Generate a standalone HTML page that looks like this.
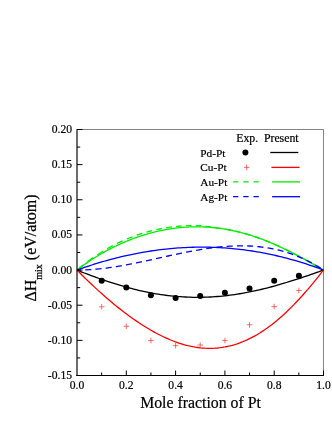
<!DOCTYPE html>
<html><head><meta charset="utf-8"><title>Chart</title>
<style>html,body{margin:0;padding:0;background:#fff;}body{width:332px;height:430px;overflow:hidden;position:relative;font-family:"Liberation Serif",serif;}</style>
</head><body>
<svg width="332" height="430" viewBox="0 0 332 430" style="position:absolute;left:0;top:0;will-change:transform">
<rect width="332" height="430" fill="#fff"/>
<g fill="none" stroke-width="1.3" stroke-linejoin="round">
<path d="M77.66,269.51 L78.46,268.84 L79.26,268.18 L80.06,267.52 L80.86,266.87 L81.66,266.22 L82.46,265.58 L83.26,264.95M87.50,261.69 L88.30,261.10 L89.10,260.51 L89.90,259.92 L90.70,259.34 L91.50,258.77 L92.30,258.20 L93.10,257.64M97.34,254.76 L98.14,254.23 L98.94,253.71 L99.74,253.20 L100.54,252.68 L101.34,252.18 L102.14,251.68 L102.94,251.20M107.18,248.70 L107.98,248.25 L108.78,247.80 L109.58,247.36 L110.38,246.92 L111.18,246.48 L111.98,246.06 L112.78,245.64M117.02,243.48 L117.82,243.09 L118.62,242.71 L119.42,242.33 L120.22,241.95 L121.02,241.58 L121.82,241.21 L122.62,240.85M126.86,239.00 L127.66,238.67 L128.46,238.34 L129.26,238.02 L130.06,237.70 L130.86,237.39 L131.66,237.08 L132.46,236.77M136.70,235.23 L137.50,234.95 L138.30,234.68 L139.10,234.41 L139.90,234.14 L140.70,233.88 L141.50,233.63 L142.30,233.38M146.54,232.12 L147.34,231.89 L148.14,231.67 L148.94,231.46 L149.74,231.25 L150.54,231.04 L151.34,230.84 L152.14,230.64M156.38,229.65 L157.18,229.48 L157.98,229.31 L158.78,229.15 L159.58,228.99 L160.38,228.83 L161.18,228.68 L161.98,228.53M166.22,227.82 L167.02,227.69 L167.82,227.57 L168.62,227.45 L169.42,227.33 L170.22,227.22 L171.02,227.10 L171.82,226.99M176.06,226.48 L176.86,226.39 L177.66,226.31 L178.46,226.23 L179.26,226.16 L180.06,226.09 L180.86,226.03 L181.66,225.96M185.90,225.70 L186.70,225.67 L187.50,225.63 L188.30,225.60 L189.10,225.58 L189.90,225.56 L190.70,225.54 L191.50,225.53M195.74,225.52 L196.54,225.53 L197.34,225.55 L198.14,225.57 L198.94,225.59 L199.74,225.64 L200.54,225.72 L201.34,225.80M205.58,226.30 L206.38,226.41 L207.18,226.52 L207.98,226.63 L208.78,226.75 L209.58,226.87 L210.38,226.99 L211.18,227.11M215.42,227.81 L216.22,227.90 L217.02,228.00 L217.82,228.09 L218.62,228.19 L219.42,228.30 L220.22,228.41 L221.02,228.52M225.26,229.17 L226.06,229.31 L226.86,229.45 L227.66,229.59 L228.46,229.74 L229.26,229.89 L230.06,230.05 L230.86,230.20M235.10,231.11 L235.90,231.29 L236.70,231.48 L237.50,231.67 L238.30,231.86 L239.10,232.06 L239.90,232.26 L240.70,232.46M244.94,233.61 L245.74,233.84 L246.54,234.07 L247.34,234.30 L248.14,234.54 L248.94,234.78 L249.74,235.03 L250.54,235.28M254.78,236.66 L255.58,236.93 L256.38,237.21 L257.18,237.49 L257.98,237.77 L258.78,238.06 L259.58,238.35 L260.38,238.64M264.62,240.25 L265.42,240.56 L266.22,240.88 L267.02,241.20 L267.82,241.52 L268.62,241.85 L269.42,242.18 L270.22,242.51M274.46,244.33 L275.26,244.68 L276.06,245.03 L276.86,245.39 L277.66,245.75 L278.46,246.12 L279.26,246.48 L280.06,246.85M284.30,248.86 L285.10,249.25 L285.90,249.63 L286.70,250.03 L287.50,250.42 L288.30,250.82 L289.10,251.22 L289.90,251.62M294.14,253.79 L294.94,254.20 L295.74,254.62 L296.54,255.04 L297.34,255.46 L298.14,255.89 L298.94,256.32 L299.74,256.74M303.98,259.04 L304.78,259.48 L305.58,259.92 L306.38,260.36 L307.18,260.81 L307.98,261.25 L308.78,261.70 L309.58,262.15M313.82,264.54 L314.62,264.99 L315.42,265.44 L316.22,265.90 L317.02,266.36 L317.82,266.81 L318.62,267.27 L319.42,267.73" stroke="#00ee00"/>
<path d="M77.00,270.07 L79.47,268.19 L81.93,266.36 L84.39,264.58 L86.86,262.85 L89.33,261.18 L91.79,259.55 L94.25,257.97 L96.72,256.43 L99.19,254.95 L101.65,253.50 L104.11,252.10 L106.58,250.75 L109.05,249.43 L111.51,248.16 L113.97,246.93 L116.44,245.73 L118.91,244.58 L121.37,243.47 L123.84,242.39 L126.30,241.35 L128.76,240.35 L131.23,239.39 L133.69,238.46 L136.16,237.57 L138.62,236.72 L141.09,235.90 L143.56,235.12 L146.02,234.37 L148.49,233.66 L150.95,232.99 L153.42,232.35 L155.88,231.74 L158.34,231.17 L160.81,230.64 L163.28,230.14 L165.74,229.67 L168.20,229.24 L170.67,228.84 L173.13,228.48 L175.60,228.16 L178.06,227.87 L180.53,227.61 L183.00,227.39 L185.46,227.21 L187.93,227.06 L190.39,226.94 L192.86,226.87 L195.32,226.82 L197.78,226.82 L200.25,226.84 L202.72,226.91 L205.18,227.01 L207.65,227.15 L210.11,227.32 L212.58,227.53 L215.04,227.77 L217.51,228.05 L219.97,228.37 L222.44,228.72 L224.90,229.11 L227.37,229.54 L229.83,230.00 L232.29,230.50 L234.76,231.03 L237.22,231.60 L239.69,232.21 L242.16,232.84 L244.62,233.52 L247.09,234.23 L249.55,234.97 L252.01,235.75 L254.48,236.56 L256.94,237.41 L259.41,238.28 L261.88,239.19 L264.34,240.14 L266.81,241.11 L269.27,242.11 L271.74,243.15 L274.20,244.21 L276.67,245.30 L279.13,246.42 L281.60,247.57 L284.06,248.74 L286.52,249.94 L288.99,251.16 L291.46,252.41 L293.92,253.67 L296.38,254.96 L298.85,256.27 L301.31,257.59 L303.78,258.93 L306.25,260.29 L308.71,261.66 L311.18,263.04 L313.64,264.43 L316.11,265.83 L318.57,267.24 L321.03,268.65 L323.50,270.07" stroke="#00ee00"/>
<path d="M77.00,270.07 L79.47,270.06 L81.93,270.02 L84.39,269.94 L86.86,269.84 L89.33,269.70 L91.79,269.54 L94.25,269.35 L96.72,269.14 L99.19,268.90 L101.65,268.63 L104.11,268.35 L106.58,268.04 L109.05,267.71 L111.51,267.36 L113.97,266.99 L116.44,266.60 L118.91,266.19 L121.37,265.77 L123.84,265.34 L126.30,264.89 L128.76,264.42 L131.23,263.95 L133.69,263.46 L136.16,262.96 L138.62,262.45 L141.09,261.94 L143.56,261.41 L146.02,260.89 L148.49,260.35 L150.95,259.81 L153.42,259.27 L155.88,258.72 L158.34,258.18 L160.81,257.63 L163.28,257.09 L165.74,256.54 L168.20,256.00 L170.67,255.46 L173.13,254.93 L175.60,254.40 L178.06,253.88 L180.53,253.36 L183.00,252.86 L185.46,252.36 L187.93,251.87 L190.39,251.40 L192.86,250.94 L195.32,250.49 L197.78,250.05 L200.25,249.63 L202.72,249.23 L205.18,248.85 L207.65,248.48 L210.11,248.13 L212.58,247.80 L215.04,247.50 L217.51,247.21 L219.97,246.95 L222.44,246.72 L224.90,246.50 L227.37,246.32 L229.83,246.16 L232.29,246.03 L234.76,245.93 L237.22,245.86 L239.69,245.82 L242.16,245.81 L244.62,245.84 L247.09,245.90 L249.55,246.00 L252.01,246.13 L254.48,246.30 L256.94,246.50 L259.41,246.75 L261.88,247.03 L264.34,247.36 L266.81,247.73 L269.27,248.14 L271.74,248.60 L274.20,249.10 L276.67,249.64 L279.13,250.24 L281.60,250.88 L284.06,251.57 L286.52,252.31 L288.99,253.10 L291.46,253.94 L293.92,254.84 L296.38,255.79 L298.85,256.79 L301.31,257.85 L303.78,258.97 L306.25,260.14 L308.71,261.38 L311.18,262.67 L313.64,264.03 L316.11,265.44 L318.57,266.92 L321.03,268.46 L323.50,270.07" stroke="#0000ff" stroke-dasharray="6.1 4.15" stroke-dashoffset="2"/>
<path d="M77.00,270.07 L79.47,269.18 L81.93,268.31 L84.39,267.46 L86.86,266.62 L89.33,265.80 L91.79,265.00 L94.25,264.22 L96.72,263.45 L99.19,262.70 L101.65,261.97 L104.11,261.25 L106.58,260.55 L109.05,259.87 L111.51,259.21 L113.97,258.56 L116.44,257.94 L118.91,257.32 L121.37,256.73 L123.84,256.15 L126.30,255.60 L128.76,255.06 L131.23,254.53 L133.69,254.03 L136.16,253.54 L138.62,253.07 L141.09,252.62 L143.56,252.18 L146.02,251.77 L148.49,251.37 L150.95,250.99 L153.42,250.62 L155.88,250.28 L158.34,249.95 L160.81,249.64 L163.28,249.35 L165.74,249.07 L168.20,248.82 L170.67,248.58 L173.13,248.36 L175.60,248.16 L178.06,247.97 L180.53,247.81 L183.00,247.66 L185.46,247.53 L187.93,247.42 L190.39,247.33 L192.86,247.25 L195.32,247.20 L197.78,247.16 L200.25,247.14 L202.72,247.14 L205.18,247.15 L207.65,247.19 L210.11,247.24 L212.58,247.32 L215.04,247.41 L217.51,247.52 L219.97,247.64 L222.44,247.79 L224.90,247.96 L227.37,248.14 L229.83,248.34 L232.29,248.56 L234.76,248.80 L237.22,249.06 L239.69,249.34 L242.16,249.63 L244.62,249.95 L247.09,250.28 L249.55,250.63 L252.01,251.00 L254.48,251.39 L256.94,251.80 L259.41,252.23 L261.88,252.67 L264.34,253.14 L266.81,253.62 L269.27,254.13 L271.74,254.65 L274.20,255.19 L276.67,255.75 L279.13,256.33 L281.60,256.93 L284.06,257.55 L286.52,258.19 L288.99,258.84 L291.46,259.52 L293.92,260.21 L296.38,260.93 L298.85,261.66 L301.31,262.42 L303.78,263.19 L306.25,263.98 L308.71,264.79 L311.18,265.62 L313.64,266.47 L316.11,267.34 L318.57,268.23 L321.03,269.14 L323.50,270.07" stroke="#0000ff"/>
<path d="M77.00,270.07 L79.47,271.05 L81.93,272.03 L84.39,272.99 L86.86,273.94 L89.33,274.88 L91.79,275.80 L94.25,276.72 L96.72,277.62 L99.19,278.50 L101.65,279.37 L104.11,280.22 L106.58,281.06 L109.05,281.88 L111.51,282.69 L113.97,283.47 L116.44,284.24 L118.91,284.99 L121.37,285.72 L123.84,286.44 L126.30,287.13 L128.76,287.80 L131.23,288.45 L133.69,289.08 L136.16,289.69 L138.62,290.28 L141.09,290.85 L143.56,291.39 L146.02,291.91 L148.49,292.41 L150.95,292.88 L153.42,293.34 L155.88,293.77 L158.34,294.17 L160.81,294.55 L163.28,294.91 L165.74,295.24 L168.20,295.55 L170.67,295.84 L173.13,296.09 L175.60,296.33 L178.06,296.54 L180.53,296.72 L183.00,296.89 L185.46,297.02 L187.93,297.13 L190.39,297.22 L192.86,297.28 L195.32,297.31 L197.78,297.32 L200.25,297.31 L202.72,297.27 L205.18,297.20 L207.65,297.11 L210.11,297.00 L212.58,296.86 L215.04,296.70 L217.51,296.51 L219.97,296.30 L222.44,296.06 L224.90,295.80 L227.37,295.52 L229.83,295.22 L232.29,294.89 L234.76,294.54 L237.22,294.16 L239.69,293.76 L242.16,293.35 L244.62,292.91 L247.09,292.45 L249.55,291.96 L252.01,291.46 L254.48,290.94 L256.94,290.39 L259.41,289.83 L261.88,289.25 L264.34,288.65 L266.81,288.03 L269.27,287.40 L271.74,286.75 L274.20,286.08 L276.67,285.39 L279.13,284.69 L281.60,283.97 L284.06,283.24 L286.52,282.50 L288.99,281.74 L291.46,280.97 L293.92,280.18 L296.38,279.39 L298.85,278.58 L301.31,277.76 L303.78,276.94 L306.25,276.10 L308.71,275.26 L311.18,274.41 L313.64,273.55 L316.11,272.69 L318.57,271.82 L321.03,270.95 L323.50,270.07" stroke="#000"/>
<path d="M77.00,270.07 L79.47,272.56 L81.93,275.02 L84.39,277.45 L86.86,279.85 L89.33,282.22 L91.79,284.55 L94.25,286.86 L96.72,289.13 L99.19,291.37 L101.65,293.58 L104.11,295.76 L106.58,297.90 L109.05,300.02 L111.51,302.10 L113.97,304.14 L116.44,306.15 L118.91,308.12 L121.37,310.06 L123.84,311.97 L126.30,313.83 L128.76,315.66 L131.23,317.44 L133.69,319.19 L136.16,320.90 L138.62,322.57 L141.09,324.19 L143.56,325.77 L146.02,327.30 L148.49,328.79 L150.95,330.24 L153.42,331.64 L155.88,332.98 L158.34,334.28 L160.81,335.53 L163.28,336.73 L165.74,337.87 L168.20,338.96 L170.67,340.00 L173.13,340.98 L175.60,341.91 L178.06,342.77 L180.53,343.58 L183.00,344.33 L185.46,345.02 L187.93,345.64 L190.39,346.20 L192.86,346.70 L195.32,347.14 L197.78,347.50 L200.25,347.81 L202.72,348.04 L205.18,348.21 L207.65,348.30 L210.11,348.33 L212.58,348.28 L215.04,348.17 L217.51,347.98 L219.97,347.72 L222.44,347.38 L224.90,346.97 L227.37,346.49 L229.83,345.93 L232.29,345.29 L234.76,344.58 L237.22,343.79 L239.69,342.93 L242.16,341.98 L244.62,340.97 L247.09,339.87 L249.55,338.69 L252.01,337.44 L254.48,336.11 L256.94,334.71 L259.41,333.22 L261.88,331.66 L264.34,330.02 L266.81,328.31 L269.27,326.52 L271.74,324.66 L274.20,322.72 L276.67,320.71 L279.13,318.62 L281.60,316.46 L284.06,314.23 L286.52,311.94 L288.99,309.57 L291.46,307.13 L293.92,304.63 L296.38,302.06 L298.85,299.44 L301.31,296.74 L303.78,293.99 L306.25,291.18 L308.71,288.32 L311.18,285.40 L313.64,282.43 L316.11,279.41 L318.57,276.34 L321.03,273.22 L323.50,270.07" stroke="#ff0000"/>
</g>
<circle cx="101.7" cy="280.7" r="3" fill="#000"/>
<circle cx="126.3" cy="287.5" r="3" fill="#000"/>
<circle cx="150.9" cy="295.2" r="3" fill="#000"/>
<circle cx="175.6" cy="297.9" r="3" fill="#000"/>
<circle cx="200.2" cy="296.0" r="3" fill="#000"/>
<circle cx="224.9" cy="292.7" r="3" fill="#000"/>
<circle cx="249.5" cy="288.6" r="3" fill="#000"/>
<circle cx="274.2" cy="280.7" r="3" fill="#000"/>
<circle cx="298.9" cy="275.8" r="3" fill="#000"/>
<path d="M98.9,306.8h5.6M101.7,304.0v5.6M123.5,326.3h5.6M126.3,323.5v5.6M148.1,340.6h5.6M150.9,337.8v5.6M172.8,345.7h5.6M175.6,342.9v5.6M197.4,345.0h5.6M200.2,342.2v5.6M222.1,340.6h5.6M224.9,337.8v5.6M246.7,324.8h5.6M249.5,322.0v5.6M271.4,306.6h5.6M274.2,303.8v5.6M296.1,290.5h5.6M298.9,287.7v5.6" stroke="#ff3030" stroke-width="0.7" fill="none"/>
<path d="M77.0,129.5H323.5V375.5" stroke="#333" stroke-width="0.6" fill="none"/>
<path d="M77.0,129.2V376.0" stroke="#000" stroke-width="1.15" fill="none"/>
<path d="M76.3,375.5H323.9" stroke="#000" stroke-width="1.2" fill="none"/>
<path d="M77.0,129.50h5.5M77.0,147.07h3.2M77.0,164.64h5.5M77.0,182.21h3.2M77.0,199.78h5.5M77.0,217.36h3.2M77.0,234.93h5.5M77.0,252.50h3.2M77.0,270.07h5.5M77.0,287.64h3.2M77.0,305.21h5.5M77.0,322.78h3.2M77.0,340.36h5.5M77.0,357.93h3.2M101.65,375.5v-3.0M126.30,375.5v-5.0M150.95,375.5v-3.0M175.60,375.5v-5.0M200.25,375.5v-3.0M224.90,375.5v-5.0M249.55,375.5v-3.0M274.20,375.5v-5.0M298.85,375.5v-3.0M323.50,375.5v-5.0" stroke="#000" stroke-width="1.0" fill="none"/>
<g font-family="Liberation Serif, serif" font-size="11.6" fill="#000" stroke="#000" stroke-width="0.2">
<text x="72" y="132.9" text-anchor="end">0.20</text>
<text x="72" y="168.0" text-anchor="end">0.15</text>
<text x="72" y="203.2" text-anchor="end">0.10</text>
<text x="72" y="238.3" text-anchor="end">0.05</text>
<text x="72" y="273.5" text-anchor="end">0.00</text>
<text x="72" y="308.6" text-anchor="end">-0.05</text>
<text x="72" y="343.8" text-anchor="end">-0.10</text>
<text x="72" y="378.9" text-anchor="end">-0.15</text>
<text x="77.0" y="388.9" text-anchor="middle">0.0</text>
<text x="126.3" y="388.9" text-anchor="middle">0.2</text>
<text x="175.6" y="388.9" text-anchor="middle">0.4</text>
<text x="224.9" y="388.9" text-anchor="middle">0.6</text>
<text x="274.2" y="388.9" text-anchor="middle">0.8</text>
<text x="323.5" y="388.9" text-anchor="middle">1.0</text>
</g><g font-family="Liberation Serif, serif" font-size="11.3" fill="#000" stroke="#000" stroke-width="0.2">
<text x="236.2" y="141.7" font-size="11.8">Exp.</text>
<text x="263.9" y="141.7" font-size="11.8">Present</text>
<text x="200.3" y="156.8">Pd-Pt</text>
<text x="200.3" y="171.4">Cu-Pt</text>
<text x="200.3" y="186.0">Au-Pt</text>
<text x="200.3" y="200.6">Ag-Pt</text>
</g>
<path d="M270.3,152.5H298.3" stroke="#000" stroke-width="1.3"/>
<path d="M271.4,167.4H299.5" stroke="#ff0000" stroke-width="1.3"/>
<path d="M272.1,181.9H300.1" stroke="#00ee00" stroke-width="1.3"/>
<path d="M272.1,196.7H300.1" stroke="#0000ff" stroke-width="1.3"/>
<circle cx="245.4" cy="152.5" r="3" fill="#000"/>
<path d="M243.8,167.4h5.6M246.6,164.6v5.6" stroke="#ff3030" stroke-width="0.7"/>
<path d="M233.1,181.9H258.8" stroke="#00ee00" stroke-width="1.3" stroke-dasharray="5.3 4.9"/>
<path d="M233.1,196.7H258.8" stroke="#0000ff" stroke-width="1.3" stroke-dasharray="5.3 4.9"/>
<text x="200.5" y="408.3" text-anchor="middle" font-family="Liberation Serif, serif" font-size="15.8" fill="#000" stroke="#000" stroke-width="0.2">Mole fraction of Pt</text>
<text transform="translate(36,301.6) rotate(-90)" font-family="Liberation Serif, serif" font-size="16" fill="#000" stroke="#000" stroke-width="0.25">ΔH<tspan font-size="10" dy="5.5">mix</tspan><tspan dy="-5.5"> (eV/atom)</tspan></text>
</svg>
</body></html>
